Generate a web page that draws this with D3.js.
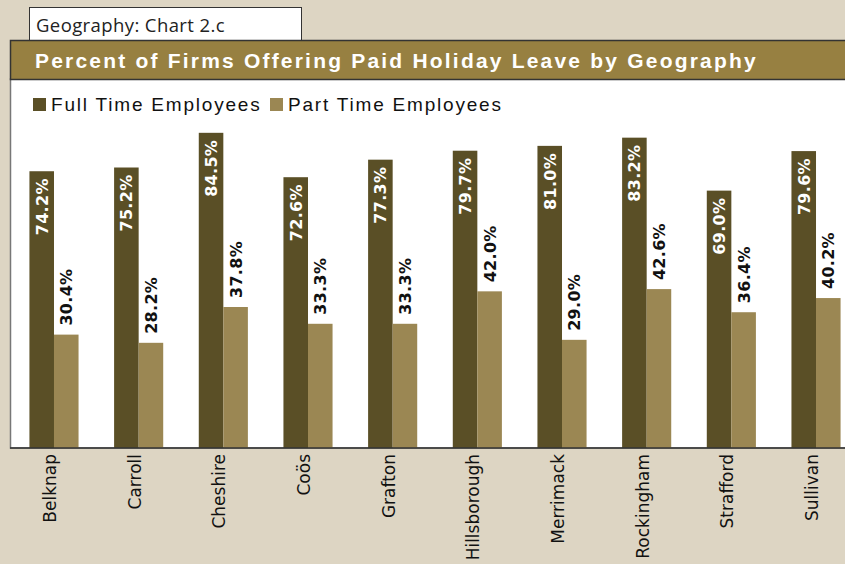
<!DOCTYPE html>
<html>
<head>
<meta charset="utf-8">
<script src="https://cdn.jsdelivr.net/npm/d3@7"></script>
<style>
  body { margin: 0; background: #ddd5c3; }
  svg { display: block; }
</style>
</head>
<body>
<div id="chart"></div>
<script>
// county names
const counties = ['Belknap', 'Carroll', 'Cheshire', 'Coös', 'Grafton',
  'Hillsborough', 'Merrimack', 'Rockingham', 'Strafford', 'Sullivan'];
// percent of firms, full time
const fullTime = [74.2, 75.2, 84.5, 72.6, 77.3, 79.7, 81.0, 83.2, 69.0, 79.6];
// percent of firms, part time
const partTime = [30.4, 28.2, 37.8, 33.3, 33.3, 42.0, 29.0, 42.6, 36.4, 40.2];
const seriesNames = ['Full Time Employees', 'Part Time Employees'];

const width = 845, height = 564;
const colors = ['#5a4f26', '#9b8753'];

const svg = d3.select('#chart').append('svg')
    .attr('width', width)
    .attr('height', height)
    .style('background', '#ddd5c3');

// chart number tab
svg.append('rect')
    .attr('x', 29.5).attr('y', 7.5)
    .attr('width', 272).attr('height', 34)
    .attr('fill', '#fff').attr('stroke', '#333').attr('stroke-width', 1);
svg.append('text')
    .attr('x', 36).attr('y', 32)
    .attr('font-family', 'Open Sans, sans-serif')
    .attr('font-size', 18.5)
    .attr('letter-spacing', 0.4)
    .attr('fill', '#222')
    .text('Geography: Chart 2.c');

// white panel
svg.append('rect')
    .attr('x', 10.5).attr('y', 79)
    .attr('width', width).attr('height', 369)
    .attr('fill', '#fff').attr('stroke', '#777').attr('stroke-width', 1.5);

// title band
svg.append('rect')
    .attr('x', 10.5).attr('y', 40.5)
    .attr('width', width).attr('height', 39)
    .attr('fill', '#978041').attr('stroke', '#333').attr('stroke-width', 1.5);
svg.append('text')
    .attr('x', 35).attr('y', 67.5)
    .attr('font-family', 'Liberation Sans, Arial, sans-serif')
    .attr('font-weight', 'bold')
    .attr('font-size', 21)
    .attr('letter-spacing', 2.2)
    .attr('fill', '#fff')
    .text('Percent of Firms Offering Paid Holiday Leave by Geography');

// legend
const legend = svg.append('g').attr('transform', 'translate(33,98)');
const legendX = [0, 237];
seriesNames.forEach(function(name, i) {
  const g = legend.append('g').attr('transform', 'translate(' + legendX[i] + ',0)');
  g.append('rect').attr('width', 13).attr('height', 13).attr('fill', colors[i]);
  g.append('text')
      .attr('x', 18).attr('y', 13)
      .attr('font-family', 'Liberation Sans, Arial, sans-serif')
      .attr('font-size', 19)
      .attr('letter-spacing', 1.8)
      .attr('fill', '#111')
      .text(name);
});

// scales
const x = d3.scaleBand()
    .domain(counties)
    .range([12.5, 857.5])
    .paddingInner(0.42)
    .paddingOuter(0.2);
const sub = d3.scaleBand()
    .domain([0, 1])
    .range([0, x.bandwidth()]);
const y = d3.scaleLinear().domain([0, 100]).range([448, 75]);

const groups = svg.append('g').selectAll('g')
    .data(counties)
    .join('g')
    .attr('transform', function(d) { return 'translate(' + x(d) + ',0)'; });

// bars
groups.each(function(d, i) {
  const g = d3.select(this);
  [fullTime[i], partTime[i]].forEach(function(v, s) {
    g.append('rect')
        .attr('x', sub(s))
        .attr('y', y(v))
        .attr('width', sub.bandwidth())
        .attr('height', y(0) - y(v))
        .attr('fill', colors[s]);
  });
  // value labels
  const cx0 = sub(0) + sub.bandwidth() / 2 + 6;
  g.append('text')
      .attr('transform', 'translate(' + cx0 + ',' + (y(fullTime[i]) + 7) + ') rotate(-90)')
      .attr('text-anchor', 'end')
      .attr('font-family', 'DejaVu Sans, sans-serif')
      .attr('font-weight', 'bold')
      .attr('font-size', 16)
      .attr('letter-spacing', 0.3)
      .attr('fill', '#fff')
      .text(fullTime[i].toFixed(1) + '%');
  const cx1 = sub(1) + sub.bandwidth() / 2 + 6;
  g.append('text')
      .attr('transform', 'translate(' + cx1 + ',' + (y(partTime[i]) - 9) + ') rotate(-90)')
      .attr('text-anchor', 'start')
      .attr('font-family', 'DejaVu Sans, sans-serif')
      .attr('font-weight', 'bold')
      .attr('font-size', 16)
      .attr('letter-spacing', 0.3)
      .attr('fill', '#111')
      .text(partTime[i].toFixed(1) + '%');
});

// x axis
const xAxis = svg.append('g')
    .attr('transform', 'translate(0,448)')
    .call(d3.axisBottom(x).tickSize(0).tickPadding(0));
xAxis.select('.domain').attr('stroke', '#333').attr('stroke-width', 1.5)
    .attr('d', 'M10,0H845');
xAxis.selectAll('text')
    .attr('font-family', 'DejaVu Sans, sans-serif')
    .attr('font-size', 17)
    .attr('fill', '#111')
    .attr('text-anchor', 'end')
    .attr('dy', '0.35em')
    .attr('transform', 'translate(-4,6) rotate(-90)')
    .attr('y', 0).attr('x', 0);
</script>
</body>
</html>
